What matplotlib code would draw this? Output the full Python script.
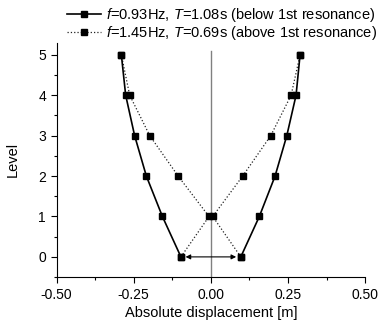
import matplotlib.pyplot as plt
from matplotlib.ticker import MultipleLocator

plt.rcParams['font.family'] = ['Liberation Sans', 'DejaVu Sans']
plt.rcParams['font.size'] = 10
plt.rcParams['mathtext.fontset'] = 'custom'
plt.rcParams['mathtext.rm'] = 'Liberation Sans'
plt.rcParams['mathtext.it'] = 'Liberation Sans:italic'

levels = [0, 1, 2, 3, 4, 5]

# f=0.93Hz (below 1st resonance)
below_right = [0.097, 0.157, 0.208, 0.246, 0.276, 0.289]
below_left = [-0.097, -0.157, -0.209, -0.247, -0.276, -0.290]

# f=1.45Hz (above 1st resonance)
above_right = [0.097, 0.006, 0.103, 0.194, 0.260, 0.289]
above_left = [-0.097, -0.006, -0.106, -0.198, -0.263, -0.290]

label_below = r'$\it{f}$=0.93Hz, $\it{T}$=1.08s (below 1st resonance)'
label_above = r'$\it{f}$=1.45Hz, $\it{T}$=0.69s (above 1st resonance)'

fig = plt.figure(figsize=(3.82, 3.26), dpi=100)
ax = fig.add_axes([0.148, 0.150, 0.808, 0.719])

ax.plot([0, 0], [-0.5, 5.1], color='#808080', lw=1.0, zorder=1)

l1, = ax.plot(below_right, levels, '-s', color='black', lw=1.2, ms=5, label=label_below, zorder=3)
ax.plot(below_left, levels, '-s', color='black', lw=1.2, ms=5, zorder=3)
l2, = ax.plot(above_right, levels, ':s', color='#222222', lw=0.9, ms=5, mfc='black', mec='black',
              label=label_above, zorder=2)
ax.plot(above_left, levels, ':s', color='#222222', lw=0.9, ms=5, mfc='black', mec='black', zorder=2)

ax.annotate('', xy=(0.082, 0), xytext=(-0.082, 0),
            arrowprops=dict(arrowstyle='<|-|>', color='black', lw=0.8,
                            mutation_scale=7, shrinkA=0, shrinkB=0))

ax.set_xlim(-0.5, 0.5)
ax.set_ylim(-0.5, 5.3)
ax.xaxis.set_minor_locator(MultipleLocator(0.125))
ax.yaxis.set_major_locator(MultipleLocator(1))
ax.yaxis.set_minor_locator(MultipleLocator(0.5))
ax.set_xticks([-0.5, -0.25, 0, 0.25, 0.5])
ax.set_xticklabels(['-0.50', '-0.25', '0.00', '0.25', '0.50'])
ax.tick_params(which='major', direction='out', length=4, width=0.8, labelsize=10)
ax.tick_params(which='minor', direction='out', length=2.5, width=0.8)
for s in ['top', 'right']:
    ax.spines[s].set_visible(False)

ax.set_xlabel('Absolute displacement [m]', fontsize=10.5)
ax.set_ylabel('Level', fontsize=10.5)
ax.xaxis.set_label_coords(0.5, -0.122)
ax.yaxis.set_label_coords(-0.118, 0.5)

fig.legend(handles=[l1, l2], loc='upper left', bbox_to_anchor=(0.157, 1.005),
           frameon=False, handlelength=2.3, handletextpad=0.35,
           labelspacing=0.0, borderaxespad=0.1, fontsize=10.5)

fig.savefig('out.png', dpi=100)
